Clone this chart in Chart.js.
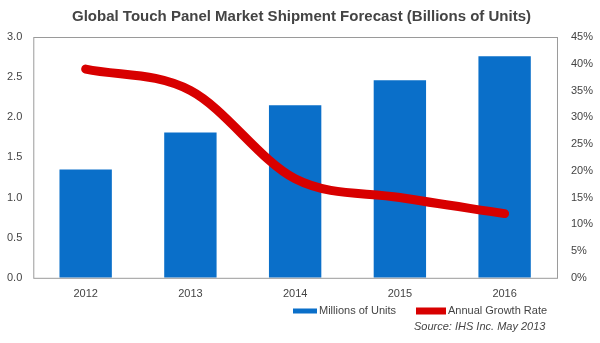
<!DOCTYPE html>
<html>
<head>
<meta charset="utf-8">
<title>Global Touch Panel Market Shipment Forecast</title>
<script src="https://cdn.jsdelivr.net/npm/chart.js"></script>
<style>
  body { margin: 0; background: #fff; }
  #wrap { width: 600px; height: 343px; position: relative; }
</style>
</head>
<body>
<div id="wrap"><canvas id="grafico"></canvas></div>
<script>
const anios = ["2012", "2013", "2014", "2015", "2016"];
const unidades = [1.35, 1.81, 2.15, 2.46, 2.76];
const crecimiento = [39, 35, 18.5, 15, 12];
const etiquetaUnidades = "Millions of Units";
const etiquetaCrecimiento = "Annual Growth Rate";
const fuente = "Source: IHS Inc. May 2013";

const azul = "#0a6fc9";
const rojo = "#d80000";
const gris = "#444";
const letra = "Arial, 'Liberation Sans', sans-serif";

// marco gris alrededor del area del grafico
const marco = {
    id: "marco",
    afterDatasetsDraw(chart) {
        const { ctx, chartArea: a } = chart;
        ctx.save();
        ctx.strokeStyle = "#9a9a9a";
        ctx.lineWidth = 1;
        ctx.strokeRect(a.left + 0.5, a.top + 0.5, a.right - a.left, a.bottom - a.top);
        ctx.restore();
    }
};

// leyenda y fuente abajo a la derecha
const leyenda = {
    id: "leyenda",
    afterDraw(chart) {
        const ctx = chart.ctx;
        const y = 311;
        ctx.save();
        ctx.font = "11px " + letra;
        ctx.textBaseline = "middle";

        ctx.fillStyle = azul;
        ctx.fillRect(293, y - 2.5, 24, 5);
        ctx.fillStyle = gris;
        ctx.fillText(etiquetaUnidades, 319, y);

        ctx.fillStyle = rojo;
        ctx.fillRect(416, y - 3.5, 30, 7);
        ctx.fillStyle = gris;
        ctx.fillText(etiquetaCrecimiento, 448, y);

        ctx.font = "italic 11px " + letra;
        ctx.fillText(fuente, 414, 327);
        ctx.restore();
    }
};

const ctx = document.getElementById("grafico").getContext("2d");
new Chart(ctx, {
    type: "bar",
    data: {
        labels: anios,
        datasets: [
            {
                label: etiquetaUnidades,
                data: unidades,
                backgroundColor: azul,
                barPercentage: 0.5,
                categoryPercentage: 1,
                yAxisID: "y",
                order: 2
            },
            {
                type: "line",
                label: etiquetaCrecimiento,
                data: crecimiento,
                borderColor: rojo,
                backgroundColor: rojo,
                borderWidth: 9,
                borderCapStyle: "round",
                pointRadius: 0,
                cubicInterpolationMode: "monotone",
                yAxisID: "y1",
                order: 1
            }
        ]
    },
    options: {
        responsive: true,
        maintainAspectRatio: false,
        animation: false,
        layout: { padding: { left: 4, right: 1, bottom: 40 } },
        plugins: {
            legend: { display: false },
            tooltip: { enabled: false },
            title: {
                display: true,
                text: "Global Touch Panel Market Shipment Forecast (Billions of Units)",
                color: gris,
                font: { family: letra, size: 15, weight: "bold" },
                padding: { top: 8, bottom: 11 }
            }
        },
        scales: {
            x: {
                grid: { display: false },
                border: { display: false },
                ticks: { color: gris, font: { family: letra, size: 11 }, padding: 2 }
            },
            y: {
                position: "left",
                min: 0,
                max: 3,
                grid: { display: false },
                border: { display: false },
                ticks: {
                    stepSize: 0.5,
                    color: gris,
                    font: { family: letra, size: 11 },
                    padding: 3,
                    callback: v => v.toFixed(1)
                }
            },
            y1: {
                position: "right",
                min: 0,
                max: 45,
                grid: { display: false },
                border: { display: false },
                ticks: {
                    stepSize: 5,
                    color: gris,
                    font: { family: letra, size: 11 },
                    padding: 6,
                    callback: v => v + "%"
                }
            }
        }
    },
    plugins: [marco, leyenda]
});
</script>
</body>
</html>
